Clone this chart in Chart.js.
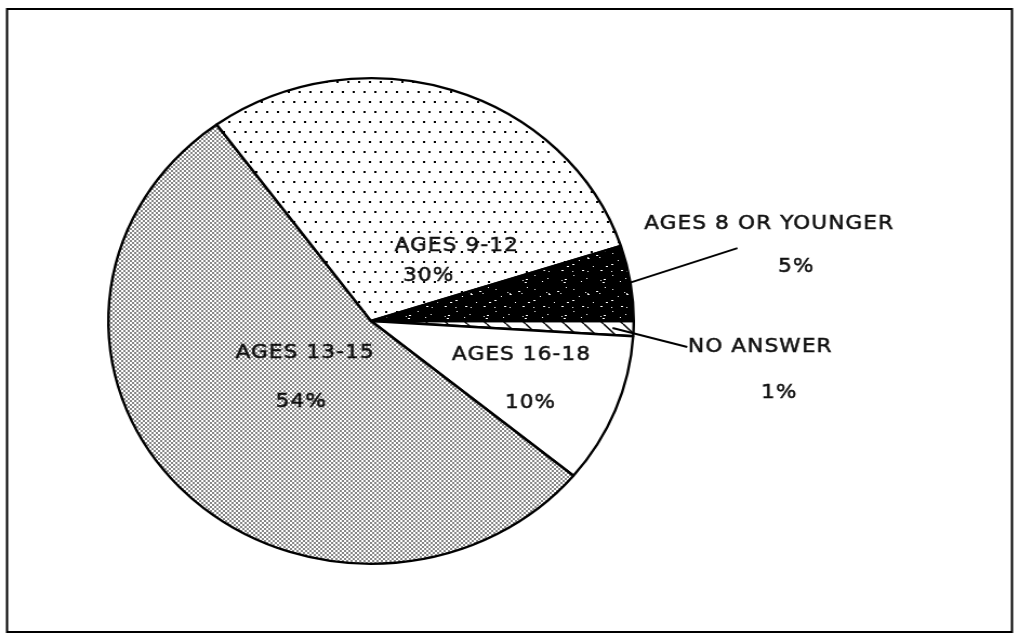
<!DOCTYPE html>
<html lang="en">
<head>
<meta charset="UTF-8">
<title>Ages pie</title>
<style>
  html, body { margin: 0; padding: 0; background: #fff; }
</style>
</head>
<body>
<!-- the scanned pie is a bit wider than tall, so the canvas is stretched sideways -->
<canvas id="chartJSContainer" width="942" height="638" style="display:block;width:1019px;height:638px"></canvas>
<script src="https://cdn.jsdelivr.net/npm/chart.js@4.4.0/dist/chart.umd.min.js"></script>
<script>
// slices run clockwise from 3 o'clock
var labels = ['NO ANSWER', 'AGES 16-18', 'AGES 13-15', 'AGES 9-12', 'AGES 8 OR YOUNGER'];
var percents = [1, 10, 54, 30, 5];
var pctLabels = ['1%', '10%', '54%', '30%', '5%'];

// label spots in pie radii from the centre: [nameX, nameY, pctX, pctY]
var labelSpots = [
  [1.482, 0.107, 1.554, 0.296],
  [0.573, 0.140, 0.607, 0.337],
  [-0.251, 0.132, -0.266, 0.333],
  [0.326, -0.309, 0.219, -0.185],
  [1.516, -0.399, 1.619, -0.222]
];
// leader lines: [slice index, start radius fraction, endX, endY]
var leaders = [
  [0, 0.92, 1.204, 0.107],
  [4, 0.99, 1.395, -0.300]
];

var ctx = document.getElementById('chartJSContainer').getContext('2d');

function makeTile(w, h, draw) {
  var c = document.createElement('canvas');
  c.width = w; c.height = h;
  var g = c.getContext('2d');
  draw(g, w, h);
  return ctx.createPattern(c, 'repeat');
}

// sparse staggered dots
var dotFill = makeTile(10, 20, function (g, w, h) {
  g.fillStyle = '#fff'; g.fillRect(0, 0, w, h);
  g.fillStyle = '#000';
  g.fillRect(1, 1, 2, 2);
  g.fillRect(6, 11, 2, 2);
});
// dense grey stipple
var stippleFill = makeTile(4, 4, function (g, w, h) {
  g.fillStyle = '#fff'; g.fillRect(0, 0, w, h);
  g.fillStyle = '#868686';
  g.fillRect(0, 0, 2, 2);
  g.fillRect(2, 2, 2, 2);
});
// black with white specks
var speckFill = makeTile(36, 36, function (g, w, h) {
  g.fillStyle = '#000'; g.fillRect(0, 0, w, h);
  g.fillStyle = '#fff';
  var s = 7;
  for (var i = 0; i < 22; i++) {
    s = (s * 97 + 13) % 1031;
    var x = s % w;
    s = (s * 97 + 13) % 1031;
    var y = s % h;
    g.fillRect(x, y, s % 3 === 0 ? 2 : 1, 1);
  }
});
// diagonal hatch
var hatchFill = makeTile(18, 18, function (g, w, h) {
  g.fillStyle = '#fff'; g.fillRect(0, 0, w, h);
  g.strokeStyle = '#000'; g.lineWidth = 1.5;
  [-w, 0, w].forEach(function (k) {
    g.beginPath(); g.moveTo(k, 0); g.lineTo(k + w, h); g.stroke();
  });
});

var fills = [hatchFill, '#ffffff', stippleFill, dotFill, speckFill];

var options = {
  type: 'pie',
  data: {
    labels: labels,
    datasets: [{
      data: percents,
      backgroundColor: fills,
      borderColor: '#000',
      borderWidth: 2.4,
      hoverOffset: 0
    }]
  },
  options: {
    responsive: false,
    devicePixelRatio: 1,
    animation: false,
    rotation: 90,
    layout: { padding: { left: 99, right: 355, top: 77, bottom: 73 } },
    events: [],
    plugins: {
      legend: { display: false },
      tooltip: { enabled: false }
    }
  },
  plugins: [{
    id: 'frameAndLabels',
    afterDraw: function (chart) {
      var c = chart.ctx;
      var arcs = chart.getDatasetMeta(0).data;
      var cx = arcs[0].x, cy = arcs[0].y, r = arcs[0].outerRadius;

      c.save();
      // outer frame
      c.strokeStyle = '#000';
      c.lineWidth = 2;
      c.strokeRect(6.5, 9, chart.width - 13, chart.height - 15);

      // leader lines
      c.lineWidth = 2;
      leaders.forEach(function (L) {
        var a = arcs[L[0]];
        var mid = (a.startAngle + a.endAngle) / 2;
        c.beginPath();
        c.moveTo(cx + Math.cos(mid) * r * L[1], cy + Math.sin(mid) * r * L[1]);
        c.lineTo(cx + L[2] * r, cy + L[3] * r);
        c.stroke();
      });

      // labels, slightly stroked to get the heavy scanned look
      c.fillStyle = '#111';
      c.strokeStyle = '#111';
      c.lineWidth = 0.5;
      c.font = '20px "DejaVu Sans"';
      c.letterSpacing = '1px';
      c.textAlign = 'center';
      c.textBaseline = 'middle';
      labels.forEach(function (name, i) {
        var p = labelSpots[i];
        var spots = [[name, p[0], p[1]], [pctLabels[i], p[2], p[3]]];
        spots.forEach(function (t) {
          c.fillText(t[0], cx + t[1] * r, cy + t[2] * r);
          c.strokeText(t[0], cx + t[1] * r, cy + t[2] * r);
        });
      });
      c.restore();
    }
  }]
};

new Chart(ctx, options);
</script>
</body>
</html>
